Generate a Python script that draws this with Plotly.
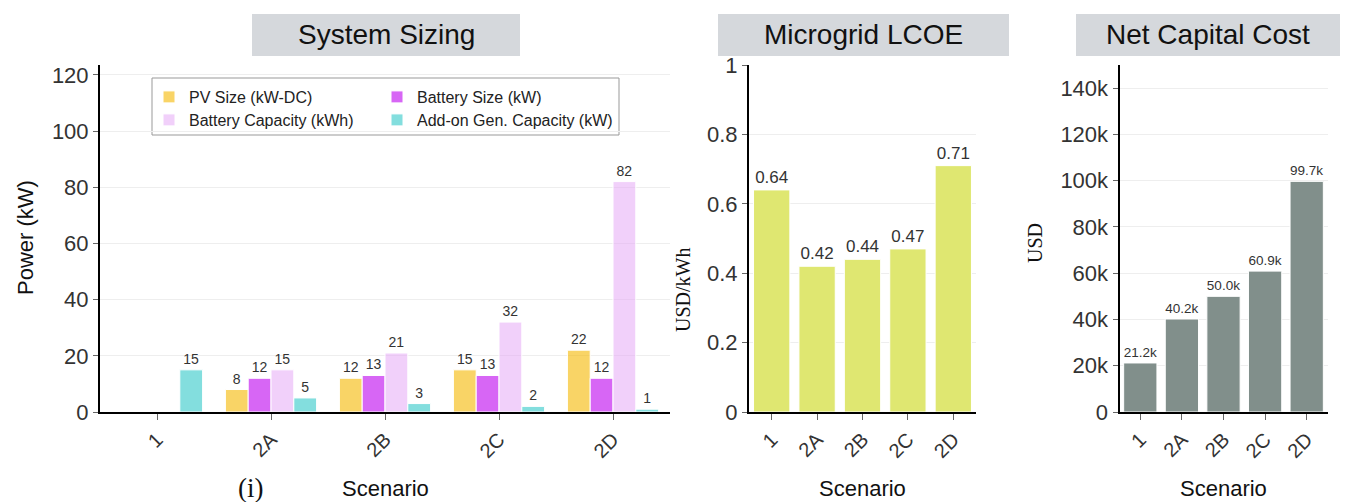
import plotly.graph_objects as go

W, H = 1361, 502

# ---------------- data ----------------
scenarios = ["1", "2A", "2B", "2C", "2D"]
pv_size = [None, 8, 12, 15, 22]
battery_size = [None, 12, 13, 13, 12]
battery_capacity = [None, 15, 21, 32, 82]
addon_gen = [15, 5, 3, 2, 1]
lcoe = [0.64, 0.42, 0.44, 0.47, 0.71]
net_capital_cost = [21200, 40200, 50000, 60900, 99700]

sizing_names = ["PV Size (kW-DC)", "Battery Size (kW)",
                "Battery Capacity (kWh)", "Add-on Gen. Capacity (kW)"]
titles = ["System Sizing", "Microgrid LCOE", "Net Capital Cost"]

# ---------------- helpers ----------------
def px(x):
    return x / W

def py(y):
    return 1 - y / H

SANS = "Liberation Sans, Arial, sans-serif"
SERIF = "Liberation Serif, Times New Roman, serif"

ydom = [py(412), py(65)]
xdoms = [[px(100), px(670)], [px(749), px(976)], [px(1119.5), px(1327.5)]]

fig = go.Figure()

sizing_series = [pv_size, battery_size, battery_capacity, addon_gen]
sizing_colors = ["rgba(245,184,0,0.6)", "rgba(188,0,238,0.6)",
                 "rgba(230,170,245,0.55)", "rgba(48,200,200,0.6)"]
legend_ids = ["legend", "legend2", "legend3", "legend4"]
for name, vals, col, lg in zip(sizing_names, sizing_series, sizing_colors, legend_ids):
    fig.add_trace(go.Bar(
        x=scenarios, y=vals, name=name,
        marker=dict(color=col, line=dict(color="white", width=1)),
        texttemplate="%{y}", textposition="outside",
        textfont=dict(size=14, color="#333", family=SANS),
        cliponaxis=False, xaxis="x", yaxis="y", legend=lg,
    ))

fig.add_trace(go.Bar(
    x=scenarios, y=lcoe, name="LCOE", showlegend=False,
    marker=dict(color="#dfe771", line=dict(color="white", width=1)),
    texttemplate="%{y:.2f}", textposition="outside",
    textfont=dict(size=17, color="#333", family=SANS),
    cliponaxis=False, xaxis="x2", yaxis="y2",
))

fig.add_trace(go.Bar(
    x=scenarios, y=net_capital_cost, name="Net Capital Cost", showlegend=False,
    marker=dict(color="#818f8b", line=dict(color="white", width=1)),
    texttemplate="%{y:.3s}", textposition="outside",
    textfont=dict(size=13.5, color="#333", family=SANS),
    cliponaxis=False, xaxis="x3", yaxis="y3",
))

xcommon = dict(showline=True, linecolor="black", linewidth=2,
               ticks="outside", ticklen=6, tickcolor="#666", tickwidth=1,
               tickangle=-45, tickfont=dict(size=20, color="#333", family=SANS),
               showgrid=False, zeroline=False, automargin=False)
ycommon = dict(showline=True, linecolor="black", linewidth=2,
               ticks="outside", ticklen=5, tickcolor="#666", tickwidth=1,
               tickfont=dict(size=22, color="#333", family=SANS),
               showgrid=True, gridcolor="#eeeeee", gridwidth=1, zeroline=False,
               automargin=False)

legend_common = dict(xanchor="left", yanchor="middle", orientation="v",
                     bgcolor="rgba(0,0,0,0)", borderwidth=0,
                     font=dict(size=16, color="#222", family=SANS),
                     tracegroupgap=0, itemwidth=30)

fig.update_layout(
    width=W, height=H, autosize=False,
    margin=dict(l=0, r=0, t=0, b=0, pad=0, autoexpand=False),
    paper_bgcolor="white", plot_bgcolor="white",
    barmode="group", bargap=0.2, bargroupgap=0,
    font=dict(family=SANS, color="#333"),
    xaxis=dict(domain=xdoms[0], anchor="y", **xcommon),
    xaxis2=dict(domain=xdoms[1], anchor="y2", **xcommon),
    xaxis3=dict(domain=xdoms[2], anchor="y3", **xcommon),
    yaxis=dict(domain=ydom, anchor="x", range=[0, 123.5], dtick=20, **ycommon),
    yaxis2=dict(domain=ydom, anchor="x2", range=[0, 1], dtick=0.2, **ycommon),
    yaxis3=dict(domain=ydom, anchor="x3", range=[0, 150000], dtick=20000,
                tickformat="~s", **ycommon),
    legend=dict(x=px(149), y=py(97), **legend_common),
    legend2=dict(x=px(377), y=py(97), **legend_common),
    legend3=dict(x=px(149), y=py(120), **legend_common),
    legend4=dict(x=px(377), y=py(120), **legend_common),
)

shapes = [
    dict(type="rect", xref="paper", yref="paper",
         x0=px(152), x1=px(619), y0=py(135), y1=py(78),
         line=dict(color="#999", width=1), fillcolor="white", layer="below"),
]
boxes = [(252, 520), (718, 1009), (1076, 1340)]
for (x0, x1) in boxes:
    shapes.append(dict(type="rect", xref="paper", yref="paper",
                       x0=px(x0), x1=px(x1), y0=py(56), y1=py(14),
                       line=dict(width=0), fillcolor="#d5d8dc", layer="below"))
fig.update_layout(shapes=shapes)

annotations = []
for (x0, x1), t in zip(boxes, titles):
    annotations.append(dict(text=t, x=px((x0 + x1) / 2), y=py(35), xref="paper",
                            yref="paper", showarrow=False, xanchor="center",
                            yanchor="middle",
                            font=dict(size=28, color="#111", family=SANS)))
for d in xdoms:
    annotations.append(dict(text="Scenario", x=(d[0] + d[1]) / 2, y=py(488),
                            xref="paper", yref="paper", showarrow=False,
                            xanchor="center", yanchor="middle",
                            font=dict(size=22, color="#111", family=SANS)))
annotations.append(dict(text="Power (kW)", x=px(25), y=py(238), xref="paper",
                        yref="paper", showarrow=False, textangle=-90,
                        xanchor="center", yanchor="middle",
                        font=dict(size=22, color="#111", family=SANS)))
annotations.append(dict(text="USD/kWh", x=px(683), y=py(290), xref="paper",
                        yref="paper", showarrow=False, textangle=-90,
                        xanchor="center", yanchor="middle",
                        font=dict(size=20, color="#111", family=SERIF)))
annotations.append(dict(text="USD", x=px(1035), y=py(243), xref="paper",
                        yref="paper", showarrow=False, textangle=-90,
                        xanchor="center", yanchor="middle",
                        font=dict(size=20, color="#111", family=SERIF)))
annotations.append(dict(text="(i)", x=px(250), y=py(488), xref="paper",
                        yref="paper", showarrow=False, xanchor="center",
                        yanchor="middle",
                        font=dict(size=27, color="#111", family=SERIF)))
fig.update_layout(annotations=annotations)

post = (
    "document.documentElement.style.margin='0';"
    "document.documentElement.style.overflow='hidden';"
    "document.body.style.margin='0';document.body.style.padding='0';"
    "document.body.style.overflow='hidden';"
    "var gd=document.getElementById('{plot_id}');"
    "gd.style.position='fixed';gd.style.top='0px';gd.style.left='0px';"
)

fig.write_html(
    "out.html",
    config={"displayModeBar": False},
    post_script=post,
)
